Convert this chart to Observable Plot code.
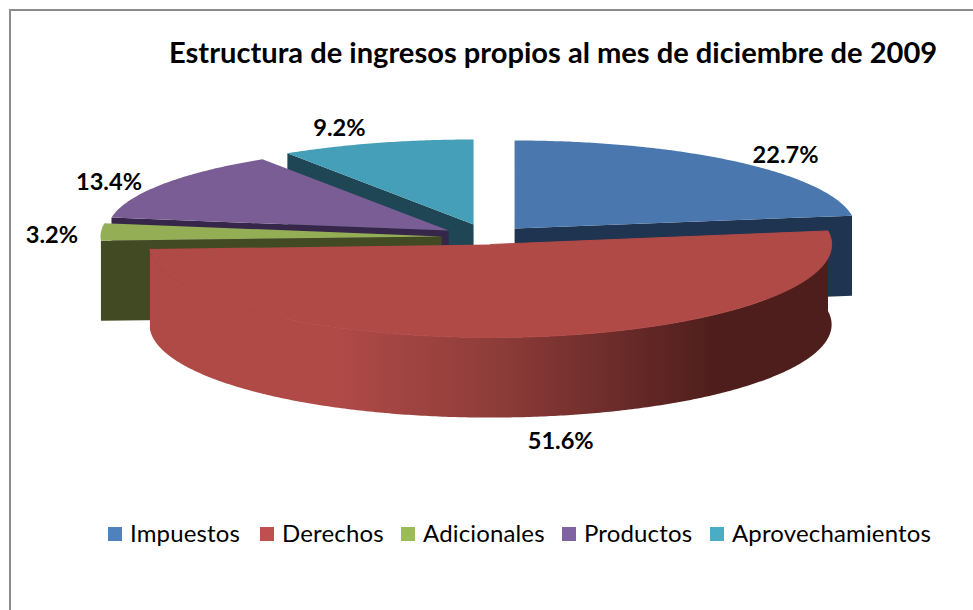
<!DOCTYPE html>
<html>
<head>
<meta charset="utf-8">
<script src="https://cdn.jsdelivr.net/npm/d3@7"></script>
<script src="https://cdn.jsdelivr.net/npm/@observablehq/plot@0.6"></script>
<style>
  html, body { margin: 0; padding: 0; background: #fff; }
  #page { position: relative; width: 973px; height: 610px; overflow: hidden; font-family: Lato, "Noto Sans", sans-serif; color: #000; }
  #frame { position: absolute; left: 9px; top: 9px; width: 980px; height: 620px; border-left: 2px solid #8c8c8c; border-top: 2px solid #8c8c8c; }
  #title { position: relative; height: 90px; box-sizing: border-box; padding-left: 169px; padding-top: 35px; font-size: 29.1px; line-height: 34px; font-weight: 700; white-space: nowrap; }
  #chart { position: relative; height: 420px; }
  #chart svg { display: block; }
  #legend { position: relative; height: 100px; font-size: 24px; }
  #legend span.item { position: absolute; top: 9px; line-height: 28px; white-space: nowrap; letter-spacing: 0.15px; }
  #legend i { position: absolute; top: 8px; width: 14px; height: 14px; left: -22px; }
</style>
</head>
<body>
<div id="page">
  <div id="frame"></div>
  <div id="title"></div>
  <div id="chart"></div>
  <div id="legend"></div>
</div>
<script>
const titleText = "Estructura de ingresos propios al mes de diciembre de 2009";
const categories = ["Impuestos", "Derechos", "Adicionales", "Productos", "Aprovechamientos"];
const shares = [22.7, 51.6, 3.2, 13.4, 9.2];
const legendColors = ["#4f81bd", "#c0504d", "#9bbb59", "#8064a2", "#4bacc6"];
const topColors = ["#4a78ae", "#b04a47", "#94ae56", "#795d94", "#459fb9"];
const wallColors = ["#1f3450", "#4e1e1c", "#414a22", "#36264a", "#1f4654"];

// Exploded-slice layout, in units of the pie radius
const explodeX = [0.0704, 0, -0.1437, -0.1231, -0.0499];
const explodeY = [0.1818, 0, 0.0909, 0.1591, 0.2273];
const squash = [1, 1.057, 1, 0.966, 0.966];
const depth = 0.91;
const labelDx = [48, 37, -49, -53, -37];
const labelDy = [-6, 104, 3, -2, -15];
const legendLeft = [130, 282, 423, 584, 732];

const total = d3.sum(shares);
const cum = d3.cumsum(shares);
const slices = categories.map((name, i) => {
  const a1 = (cum[i] / total) * 2 * Math.PI;
  const a0 = a1 - (shares[i] / total) * 2 * Math.PI;
  return {name, i, a0, a1, mid: (a0 + a1) / 2, cx: explodeX[i], cy: explodeY[i], s: squash[i]};
});
const rim = (s, a, drop = 0) => ({x: s.cx + Math.sin(a), y: s.cy + s.s * Math.cos(a) - drop});
const apex = (s, drop = 0) => ({x: s.cx, y: s.cy - drop});
const arc = (s, a0, a1, drop = 0) => {
  const n = Math.max(2, Math.ceil(Math.abs(a1 - a0) / 0.01));
  return d3.range(n + 1).map(k => rim(s, a0 + (a1 - a0) * k / n, drop));
};
const topFace = s => [apex(s), ...arc(s, s.a0, s.a1)];
const cutFace = (s, a) => [apex(s), rim(s, a), rim(s, a, depth), apex(s, depth)];
const rimWall = s => [...arc(s, s.a0, s.a1), ...arc(s, s.a1, s.a0, depth)];

const poly = (points, fill, stroke = "none") => Plot.line(points, {x: "x", y: "y", fill, stroke, strokeWidth: 1, curve: "linear"});

const [blue, red, green, purple, teal] = slices;
const gradient = () => {
  const ns = "http://www.w3.org/2000/svg";
  const defs = document.createElementNS(ns, "defs");
  const g = document.createElementNS(ns, "linearGradient");
  g.setAttribute("id", "redWall");
  [[0, topColors[1]], [0.27, topColors[1]], [0.5, "#8f3d3a"], [0.68, "#6c2c2a"], [0.83, wallColors[1]], [1, wallColors[1]]].forEach(([o, c]) => {
    const st = document.createElementNS(ns, "stop");
    st.setAttribute("offset", o);
    st.setAttribute("stop-color", c);
    g.appendChild(st);
  });
  defs.appendChild(g);
  return defs;
};

const labelMarks = slices.map(s => {
  const p = rim(s, s.mid);
  return Plot.text([{...p, t: shares[s.i].toFixed(1) + "%"}], {
    x: "x", y: "y", text: "t", dx: labelDx[s.i], dy: labelDy[s.i],
    fontSize: 23.6, fontWeight: 700, fontFamily: "Lato, 'Noto Sans', sans-serif", fill: "#000"
  });
});

const chart = Plot.plot({
  width: 973,
  height: 420,
  margin: 0,
  x: {domain: [-1.437, 1.416], axis: null},
  y: {domain: [-3.023, 1.75], axis: null},
  marks: [
    gradient,
    poly(cutFace(teal, teal.a0), wallColors[4]),
    poly(topFace(teal), topColors[4]),
    poly(cutFace(purple, purple.a0), wallColors[3]),
    poly(topFace(purple), topColors[3]),
    poly(cutFace(blue, blue.a1), wallColors[0]),
    poly(topFace(blue), topColors[0]),
    poly(cutFace(green, green.a0), wallColors[2]),
    poly(topFace(green), topColors[2]),
    poly(rimWall(red), "url(#redWall)"),
    poly(topFace(red), topColors[1], topColors[1]),
    ...labelMarks
  ]
});
chart.style.background = "transparent";

document.getElementById("title").textContent = titleText;
document.getElementById("chart").appendChild(chart);
const legend = document.getElementById("legend");
categories.forEach((c, i) => {
  const item = document.createElement("span");
  item.className = "item";
  item.style.left = legendLeft[i] + "px";
  item.textContent = c;
  const sw = document.createElement("i");
  sw.style.background = legendColors[i];
  item.appendChild(sw);
  legend.appendChild(item);
});
</script>
</body>
</html>
